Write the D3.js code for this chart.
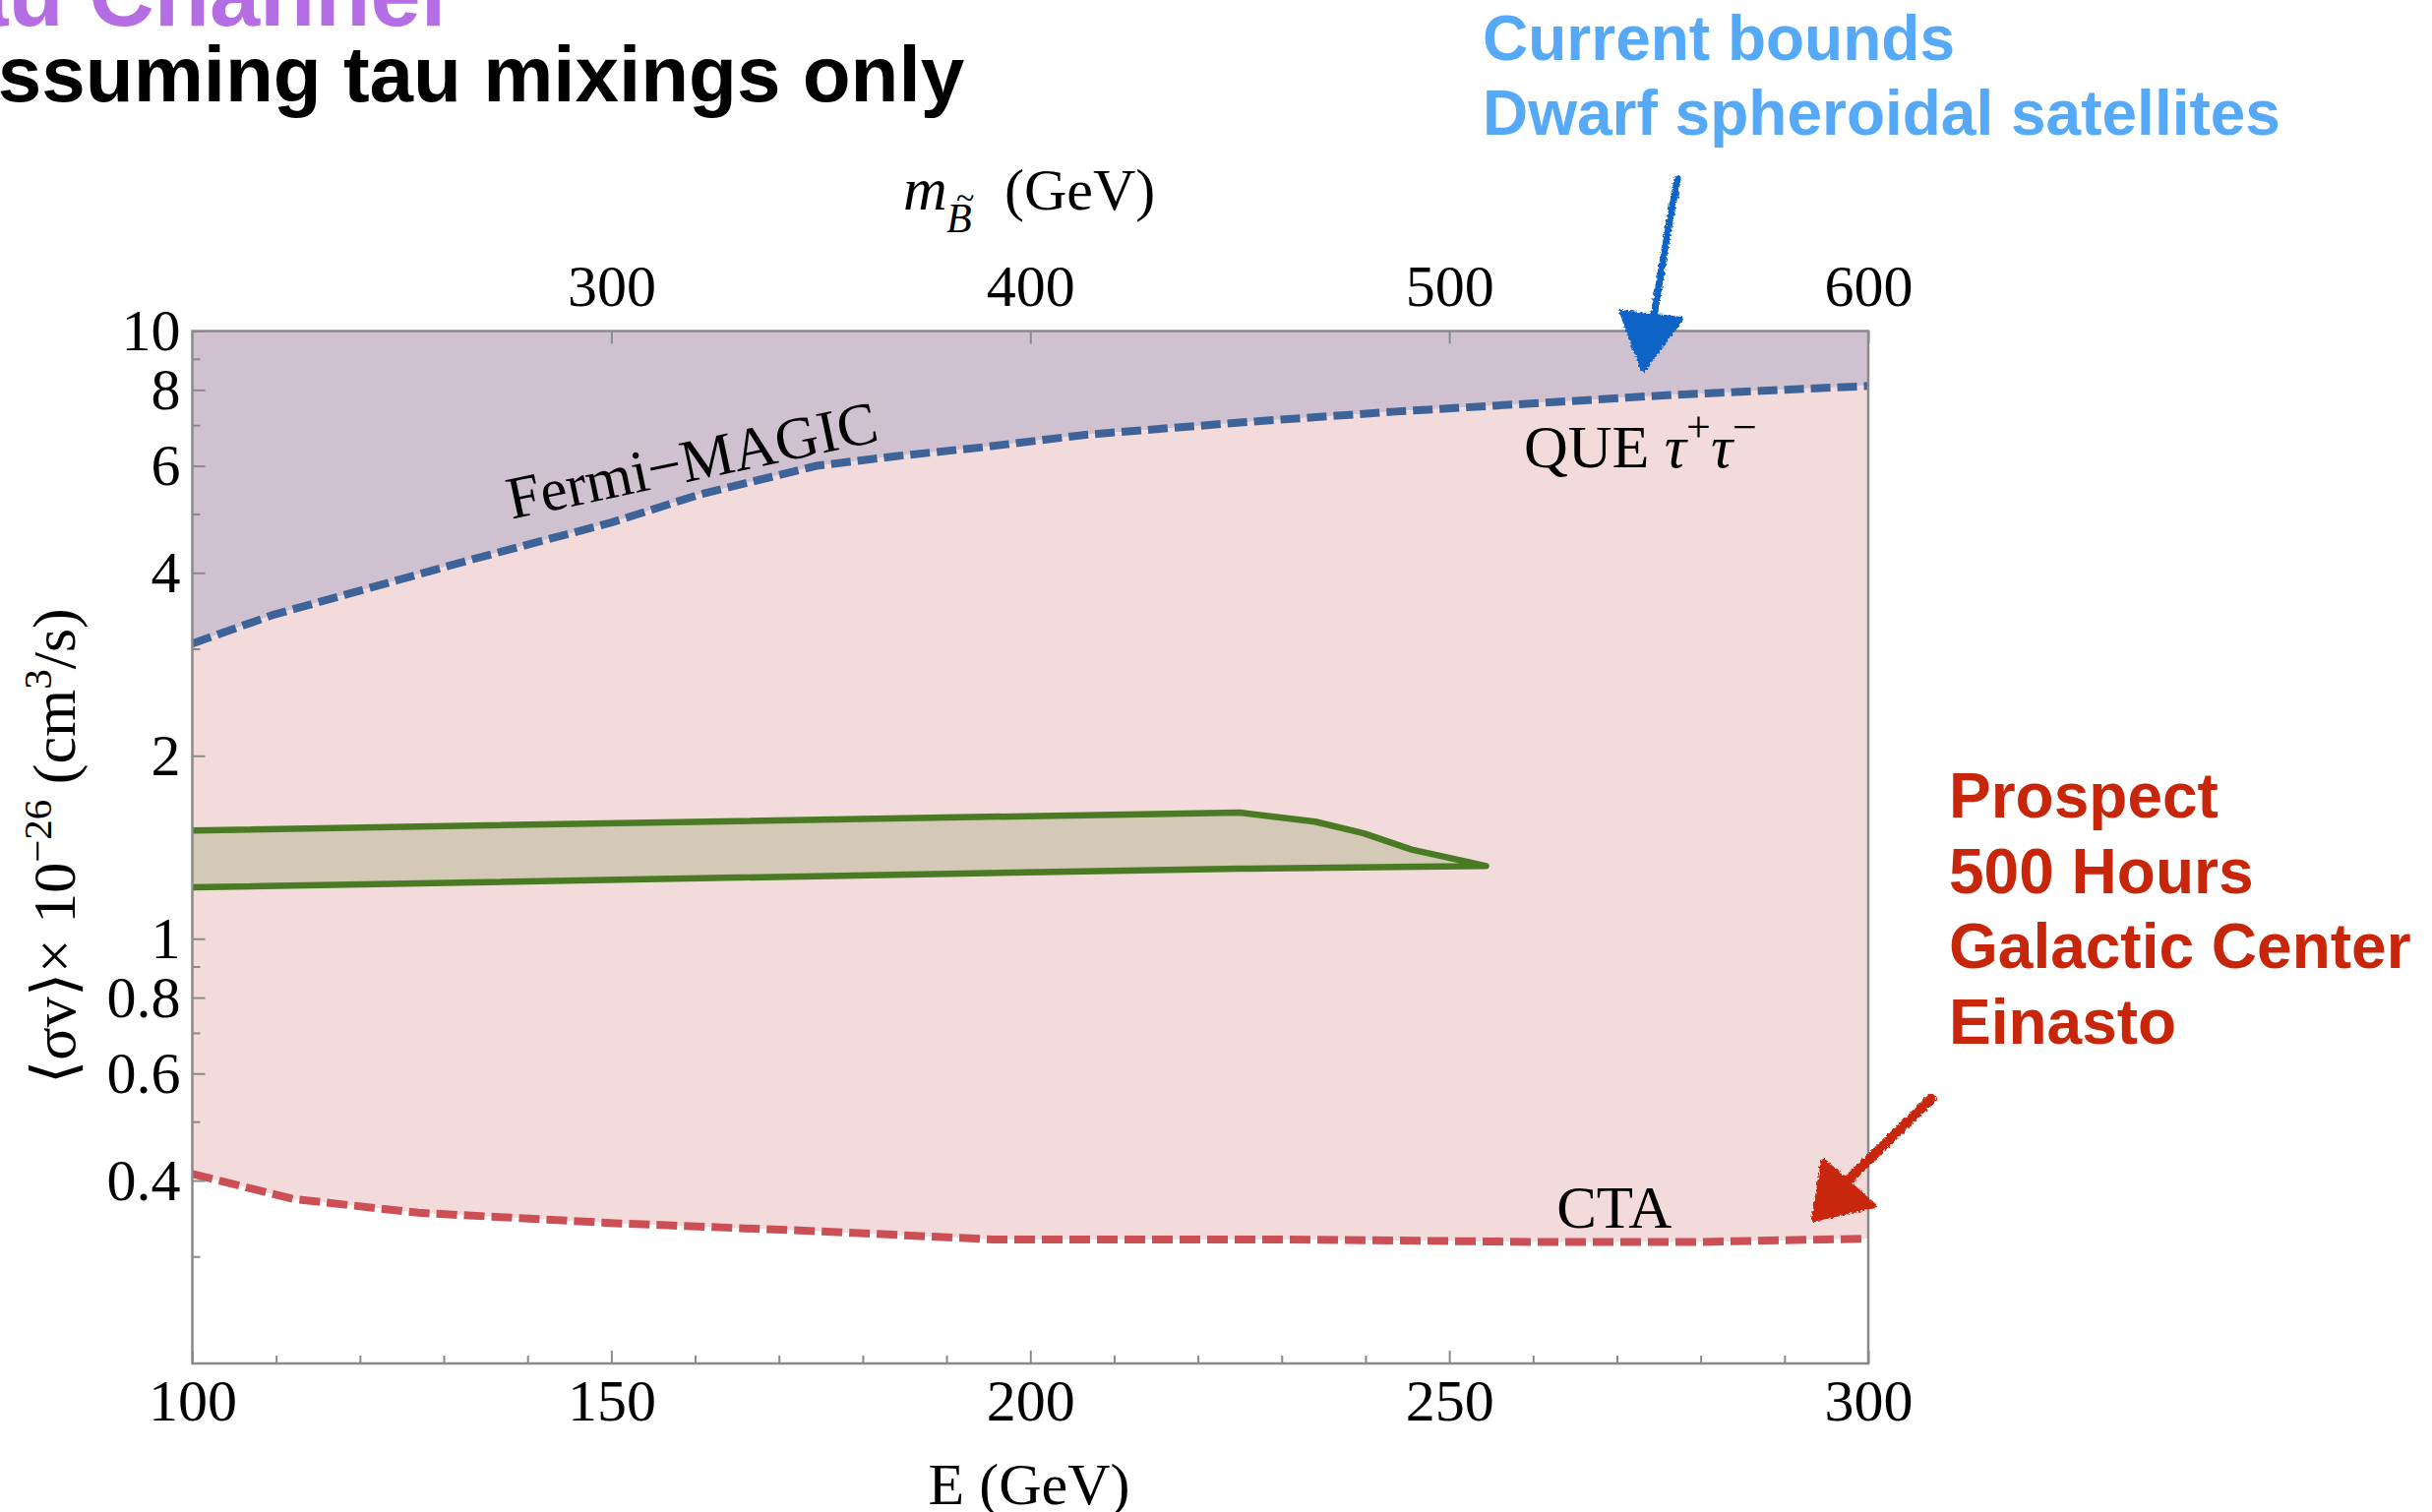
<!DOCTYPE html>
<html>
<head>
<meta charset="utf-8">
<script src="https://cdn.jsdelivr.net/npm/d3@7"></script>
<style>
  body { margin: 0; background: #fff; }
  svg { display: block; }
</style>
</head>
<body>
<svg id="chart" width="2472" height="1537"></svg>
<script>
// Annihilation cross section <σv> in units of 1e-26 cm^3/s versus photon energy E (GeV)

// Fermi-MAGIC / QUE τ+τ- bound
const queE     = [100, 109.6, 133.4, 150, 160.7, 174.5, 184.2, 194.4, 206.6, 225, 243.6, 262, 276.5, 300];
const queSigma = [3.06, 3.41, 4.21, 4.84, 5.39, 6.0, 6.23, 6.44, 6.75, 7.07, 7.37, 7.63, 7.85, 8.12];

// CTA prospect
const ctaE     = [100, 112, 127, 151, 175, 195.5, 230, 260, 280, 300];
const ctaSigma = [0.41, 0.373, 0.354, 0.34, 0.33, 0.32, 0.32, 0.317, 0.317, 0.321];

// model band (upper and lower edges)
const bandUpperE     = [100, 225, 234, 239.8, 245.5, 251.8, 254.4];
const bandUpperSigma = [1.507, 1.613, 1.558, 1.491, 1.402, 1.342, 1.317];
const bandLowerE     = [100, 225, 254.4];
const bandLowerSigma = [1.215, 1.304, 1.317];

// axis ticks
const xMajor = [100, 150, 200, 250, 300];
const xMinor = [110, 120, 130, 140, 160, 170, 180, 190, 210, 220, 230, 240, 260, 270, 280, 290];
const topMajor = [300, 400, 500, 600];
const yMajor = [0.4, 0.6, 0.8, 1, 2, 4, 6, 8, 10];
const yMajorLabels = ["0.4", "0.6", "0.8", "1", "2", "4", "6", "8", "10"];
const yMinor = [0.3, 0.5, 0.7, 0.9, 3, 5, 7, 9];

const svg = d3.select("#chart");
const box = { left: 195.5, right: 1899, top: 336.5, bottom: 1386 };

const x = d3.scaleLinear().domain([100, 300]).range([box.left, box.right]);
const xTop = d3.scaleLinear().domain([200, 600]).range([box.left, box.right]);
const y = d3.scaleLog().domain([0.2, 10]).range([box.bottom, box.top]);

const pts = (es, vs) => es.map((e, i) => [e, vs[i]]);
const que = pts(queE, queSigma);
const cta = pts(ctaE, ctaSigma);
const bandUp = pts(bandUpperE, bandUpperSigma);
const bandLo = pts(bandLowerE, bandLowerSigma);

const line = d3.line().x(d => x(d[0])).y(d => y(d[1]));

// rough texture for the hand-drawn arrows
const defs = svg.append("defs");
const rough = defs.append("filter").attr("id", "rough")
  .attr("x", "-20%").attr("y", "-20%").attr("width", "140%").attr("height", "140%");
rough.append("feTurbulence").attr("type", "fractalNoise").attr("baseFrequency", 0.35)
  .attr("numOctaves", 2).attr("seed", 3).attr("result", "noise");
rough.append("feDisplacementMap").attr("in", "SourceGraphic").attr("in2", "noise")
  .attr("scale", 5).attr("xChannelSelector", "R").attr("yChannelSelector", "G");

const plot = svg.append("g");

// excluded region above the current bound
plot.append("path")
  .datum(que)
  .attr("d", d3.area().x(d => x(d[0])).y0(y(10)).y1(d => y(d[1])))
  .attr("fill", "#cfc1cf");

// region between current bound and CTA reach
plot.append("path")
  .datum(que.concat(cta.slice().reverse()))
  .attr("d", d => line(d) + "Z")
  .attr("fill", "#f3dbdc");

// model band: fill, then the outline open on the left edge
const bandOutline = bandUp.concat(bandLo.slice().reverse());
plot.append("path")
  .datum(bandOutline)
  .attr("d", d => line(d) + "Z")
  .attr("fill", "#d4c8b7");
plot.append("path")
  .datum(bandOutline)
  .attr("d", line)
  .attr("fill", "none")
  .attr("stroke", "#4a7b24")
  .attr("stroke-width", 6.5)
  .attr("stroke-linejoin", "round");

// dashed limit curves
plot.append("path").datum(que).attr("d", line)
  .attr("fill", "none").attr("stroke", "#3e6399").attr("stroke-width", 8)
  .attr("stroke-dasharray", "20 7");
plot.append("path").datum(cta).attr("d", line)
  .attr("fill", "none").attr("stroke", "#cc4f56").attr("stroke-width", 8)
  .attr("stroke-dasharray", "21 7");

// frame
svg.append("rect")
  .attr("x", box.left).attr("y", box.top)
  .attr("width", box.right - box.left).attr("height", box.bottom - box.top)
  .attr("fill", "none").attr("stroke", "#8a8a8a").attr("stroke-width", 2.5);

const serif = "'Liberation Serif', 'Times New Roman', Times, serif";
const sans = "'Liberation Sans', Arial, Helvetica, sans-serif";

function styleAxis(g) {
  g.select(".domain").remove();
  g.selectAll(".tick line").attr("stroke", "#8a8a8a").attr("stroke-width", 2);
  g.selectAll(".tick text").attr("fill", "#000").style("font-family", serif).style("font-size", "60px");
}

// bottom axis
svg.append("g").attr("transform", `translate(0,${box.bottom})`)
  .call(d3.axisBottom(x).tickValues(xMinor).tickSize(-8).tickFormat(""))
  .call(styleAxis);
svg.append("g").attr("transform", `translate(0,${box.bottom})`)
  .call(d3.axisBottom(x).tickValues(xMajor).tickSize(-13).tickPadding(15).tickFormat(d3.format("d")))
  .call(styleAxis);

// top axis (bino mass = 2E)
svg.append("g").attr("transform", `translate(0,${box.top})`)
  .call(d3.axisTop(xTop).tickValues(topMajor).tickSize(-13).tickPadding(26).tickFormat(d3.format("d")))
  .call(styleAxis);

// left axis
svg.append("g").attr("transform", `translate(${box.left},0)`)
  .call(d3.axisLeft(y).tickValues(yMinor).tickSize(-8).tickFormat(""))
  .call(styleAxis);
svg.append("g").attr("transform", `translate(${box.left},0)`)
  .call(d3.axisLeft(y).tickValues(yMajor).tickSize(-13).tickPadding(12)
    .tickFormat((d, i) => yMajorLabels[i]))
  .call(styleAxis);

// axis titles
svg.append("text")
  .attr("x", 1046).attr("y", 1529)
  .attr("text-anchor", "middle")
  .style("font-family", serif).style("font-size", "60px")
  .text("E (GeV)");

const topTitle = svg.append("g").style("font-family", serif);
topTitle.append("text").attr("x", 918).attr("y", 213)
  .style("font-size", "62px").style("font-style", "italic").text("m");
topTitle.append("text").attr("x", 962).attr("y", 236)
  .style("font-size", "42px").style("font-style", "italic").text("B");
topTitle.append("text").attr("x", 972).attr("y", 212)
  .style("font-size", "34px").text("~");
topTitle.append("text").attr("x", 1021).attr("y", 213)
  .style("font-size", "60px").text("(GeV)");

const yTitle = svg.append("text")
  .attr("transform", "translate(76,860) rotate(-90)")
  .attr("text-anchor", "middle")
  .style("font-family", serif).style("font-size", "62px");
yTitle.append("tspan").text("\u27E8\u03C3v\u27E9\u00D7 10");
yTitle.append("tspan").attr("dy", -24).style("font-size", "41px").text("\u221226");
yTitle.append("tspan").attr("dy", 24).text(" (cm");
yTitle.append("tspan").attr("dy", -24).style("font-size", "41px").text("3");
yTitle.append("tspan").attr("dy", 24).text("/s)");

// curve labels
svg.append("text")
  .attr("transform", `translate(${x(138.1)},${y(4.9)}) rotate(-12)`)
  .style("font-family", serif).style("font-size", "61px")
  .text("Fermi\u2212MAGIC");

const queLabel = svg.append("text")
  .attr("x", x(258.9)).attr("y", y(5.97))
  .style("font-family", serif).style("font-size", "62px");
queLabel.append("tspan").text("QUE ");
queLabel.append("tspan").style("font-style", "italic").text("\u03C4");
queLabel.append("tspan").attr("dy", -26).style("font-size", "44px").text("+");
queLabel.append("tspan").attr("dy", 26).style("font-style", "italic").text("\u03C4");
queLabel.append("tspan").attr("dy", -26).style("font-size", "44px").text("\u2212");

svg.append("text")
  .attr("x", x(262.8)).attr("y", y(0.3345))
  .style("font-family", serif).style("font-size", "61px")
  .text("CTA");

// headings
svg.append("text").attr("x", -92).attr("y", 26)
  .style("font-family", sans).style("font-weight", "bold").style("font-size", "92px")
  .attr("fill", "#b46de3").text("Tau Channel");
svg.append("text").attr("x", -60).attr("y", 103)
  .style("font-family", sans).style("font-weight", "bold").style("font-size", "80px")
  .attr("fill", "#000").text("Assuming tau mixings only");

// annotation: current bounds
const blueNote = svg.append("g").style("font-family", sans).style("font-weight", "bold")
  .style("font-size", "64px").attr("fill", "#55a9f7");
blueNote.append("text").attr("x", 1507).attr("y", 61).text("Current bounds");
blueNote.append("text").attr("x", 1507).attr("y", 137).text("Dwarf spheroidal satellites");

// annotation: prospect
const redNote = svg.append("g").style("font-family", sans).style("font-weight", "bold")
  .style("font-size", "64px").attr("fill", "#c8260b");
["Prospect", "500 Hours", "Galactic Center", "Einasto"].forEach((t, i) => {
  redNote.append("text").attr("x", 1981).attr("y", 831 + i * 76.7).text(t);
});

// hand-drawn arrows
const arrows = svg.append("g").attr("filter", "url(#rough)");
arrows.append("path")
  .attr("d", "M1705,182 Q1692,250 1680,330")
  .attr("fill", "none").attr("stroke", "#0a64c6").attr("stroke-width", 7).attr("stroke-linecap", "round");
arrows.append("path")
  .attr("d", "M1648,317 L1709,324 L1670,377 Z")
  .attr("fill", "#0a64c6").attr("stroke", "#0a64c6").attr("stroke-width", 4).attr("stroke-linejoin", "round");
arrows.append("path")
  .attr("d", "M1963,1117 L1880,1198")
  .attr("fill", "none").attr("stroke", "#c8260b").attr("stroke-width", 10).attr("stroke-linecap", "round");
arrows.append("path")
  .attr("d", "M1853,1179 L1906,1226 L1843,1240 Z")
  .attr("fill", "#c8260b").attr("stroke", "#c8260b").attr("stroke-width", 4).attr("stroke-linejoin", "round");
</script>
</body>
</html>
